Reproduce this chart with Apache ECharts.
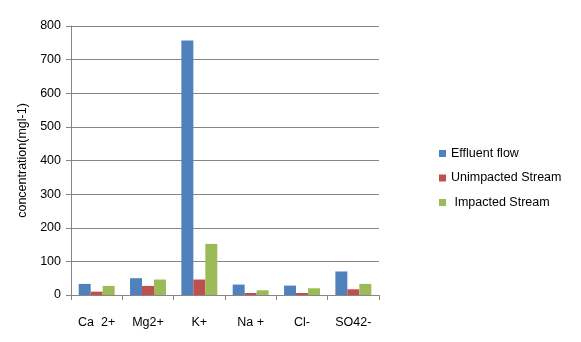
<!DOCTYPE html>
<html>
<head>
<meta charset="utf-8">
<script src="https://cdn.jsdelivr.net/npm/echarts@6/dist/echarts.min.js"></script>
<style>
  html, body { margin: 0; padding: 0; background: #fff; }
  #main { width: 581px; height: 342px; }
</style>
</head>
<body>
<div id="main"></div>
<script>
var categories = ['Ca  2+', 'Mg2+', 'K+', 'Na +', 'Cl-', 'SO42-']
var seriesNames = ['Effluent flow', 'Unimpacted Stream', ' Impacted Stream']
var effluent = [33, 50, 757, 31, 28, 70]
var unimpacted = [10, 27, 46, 6, 6, 17]
var impacted = [27, 46, 152, 14, 20, 33]
var yTicks = [0, 800, 100]  // min, max, step

var font = 'Liberation Sans'
var myChart = echarts.init(document.getElementById('main'))

myChart.setOption({
    animation: false,
    color: ['#4F81BD', '#C0504D', '#9BBB59'],
    textStyle: { fontFamily: font },
    grid: { left: 71, right: 202, top: 26, bottom: 47 },
    legend: {
        orient: 'vertical',
        left: 434,
        top: 142,
        itemWidth: 7,
        itemHeight: 7,
        itemGap: 11.5,
        icon: 'rect',
        textStyle: { fontSize: 12.5, color: '#000', fontFamily: font },
        data: seriesNames
    },
    xAxis: {
        type: 'category',
        data: categories,
        axisLine: { lineStyle: { color: '#868686' } },
        axisTick: { show: true, length: 5, alignWithLabel: false, lineStyle: { color: '#868686' } },
        axisLabel: { color: '#000', fontSize: 12.5, margin: 21, interval: 0 }
    },
    yAxis: {
        type: 'value',
        min: yTicks[0],
        max: yTicks[1],
        interval: yTicks[2],
        name: 'concentration(mgl-1)',
        nameLocation: 'middle',
        nameGap: 37,
        nameTextStyle: { color: '#000', fontSize: 12.5 },
        axisLine: { show: true, lineStyle: { color: '#868686' } },
        axisTick: { show: true, length: 5, lineStyle: { color: '#868686' } },
        axisLabel: { color: '#000', fontSize: 12.5, margin: 10 },
        splitLine: { lineStyle: { color: '#868686' } }
    },
    series: [
        { type: 'bar', name: seriesNames[0], data: effluent, barGap: '0%', barCategoryGap: '30%' },
        { type: 'bar', name: seriesNames[1], data: unimpacted, barGap: '0%', barCategoryGap: '30%' },
        { type: 'bar', name: seriesNames[2], data: impacted, barGap: '0%', barCategoryGap: '30%' }
    ]
})
</script>
</body>
</html>
